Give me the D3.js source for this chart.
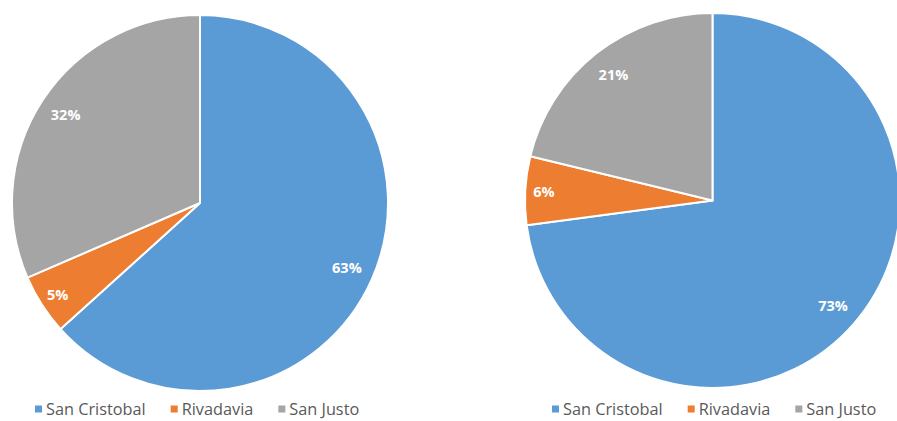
<!DOCTYPE html>
<html lang="es">
<head>
<meta charset="utf-8">
<script src="https://d3js.org/d3.v7.min.js"></script>
<style>
  body { margin: 0; background: #fff; }
  svg { display: block; }
  .lbl { font: bold 14.5px "Open Sans", sans-serif; fill: #fff; }
  .leg { font: 16.3px "Open Sans", sans-serif; fill: #595959; }
</style>
</head>
<body>
<div id="chart"></div>
<script>
var width = 897, height = 421;

var categories = ["San Cristobal", "Rivadavia", "San Justo"];
var colors = ["#5B9BD5", "#ED7D31", "#A5A5A5"];
var leftValues = [63.3, 5.2, 31.5];
var rightValues = [72.9, 5.9, 21.2];

var pies = [
  { values: leftValues, cx: 200, cy: 203, r: 188, legendX: 38 },
  { values: rightValues, cx: 712.5, cy: 200.5, r: 187.5, legendX: 555 }
];

var svg = d3.select("#chart").append("svg")
  .attr("width", width).attr("height", height);

var pie = d3.pie().sort(null).value(function(d) { return d; });

pies.forEach(function(p) {
  var g = svg.append("g").attr("transform", "translate(" + p.cx + "," + p.cy + ")");
  var arc = d3.arc().innerRadius(0).outerRadius(p.r);
  var arcs = pie(p.values);

  g.selectAll("path").data(arcs).enter().append("path")
    .attr("d", arc)
    .attr("fill", function(d, i) { return colors[i]; })
    .attr("stroke", "#fff")
    .attr("stroke-width", 2)
    .attr("stroke-linejoin", "round");

  var sum = d3.sum(p.values);
  g.selectAll("text").data(arcs).enter().append("text")
    .attr("class", "lbl")
    .attr("text-anchor", "middle")
    .attr("dy", "0.36em")
    .attr("transform", function(d) {
      var k = d.value / sum < 0.1 ? 0.9 : 0.855;
      var a = (d.startAngle + d.endAngle) / 2;
      return "translate(" + (Math.sin(a) * p.r * k) + "," + (-Math.cos(a) * p.r * k) + ")";
    })
    .text(function(d) { return Math.round(d.value / sum * 100) + "%"; });

  // legend
  var lg = svg.append("g").attr("transform", "translate(" + p.legendX + ",409)");
  var x = 0;
  categories.forEach(function(c, i) {
    var item = lg.append("g").attr("transform", "translate(" + x + ",0)");
    item.append("rect").attr("x", -3).attr("y", -3.5).attr("width", 7).attr("height", 7)
      .attr("fill", colors[i]);
    var t = item.append("text").attr("class", "leg").attr("x", 8).attr("dy", "0.35em").text(c);
    x += 8 + t.node().getComputedTextLength() + 28;
  });
});
</script>
</body>
</html>
